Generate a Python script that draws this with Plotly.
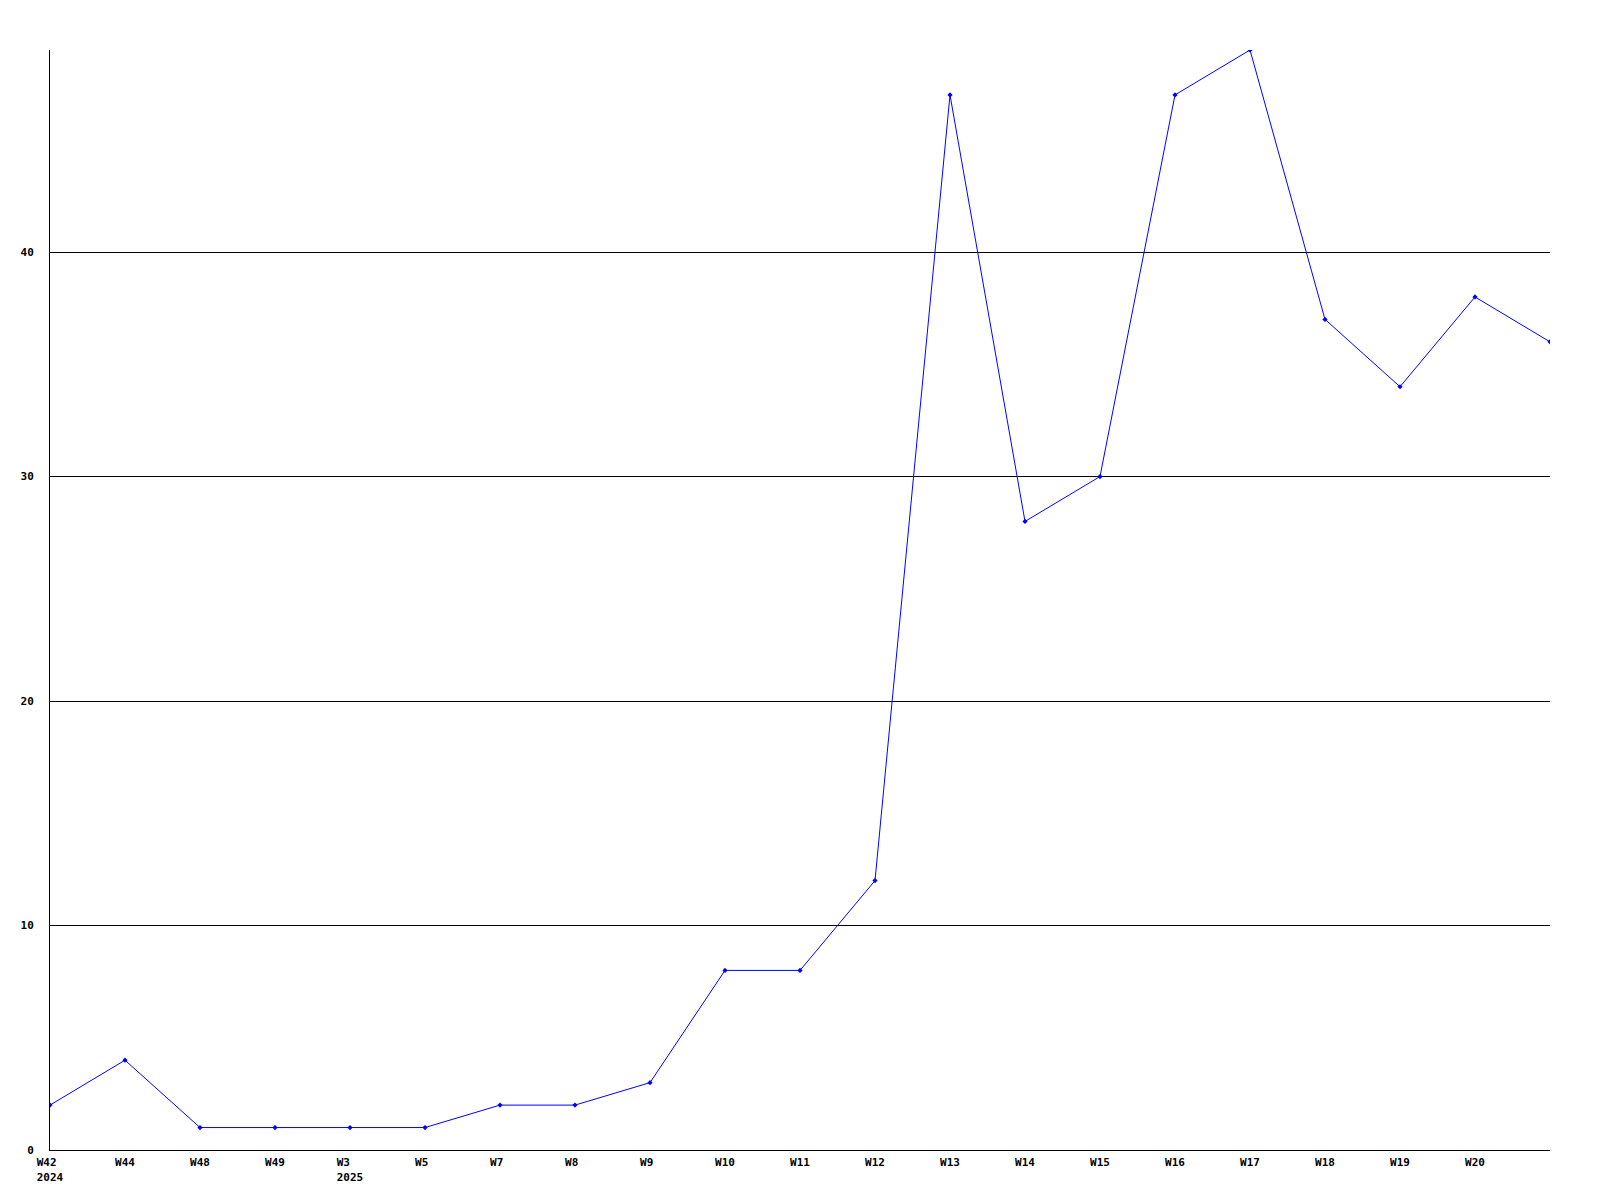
import plotly.graph_objects as go

weeks = ["W42", "W44", "W48", "W49", "W3", "W5", "W7", "W8", "W9", "W10",
         "W11", "W12", "W13", "W14", "W15", "W16", "W17", "W18", "W19", "W20", "W21"]
values = [2, 4, 1, 1, 1, 1, 2, 2, 3, 8, 8, 12, 47, 28, 30, 47, 49, 37, 34, 38, 36]
tick_labels = ["W42<br>2024", "W44", "W48", "W49", "W3<br>2025", "W5", "W7", "W8", "W9",
               "W10", "W11", "W12", "W13", "W14", "W15", "W16", "W17", "W18", "W19", "W20"]
y_ticks = [0, 10, 20, 30, 40]

x_idx = list(range(len(weeks)))

# pad short labels so they sit left-aligned like the reference
def pad(lbl):
    lines = lbl.split("<br>")
    w = max(len(s) for s in lines)
    w = max(w, 3)
    return "<br>".join(s + "\u00a0" * (w - len(s)) for s in lines)

ticktext = [pad(t) for t in tick_labels]

fig = go.Figure()
fig.add_trace(go.Scatter(
    x=x_idx, y=values, mode="lines+markers",
    line=dict(color="#0000FF", width=1),
    marker=dict(symbol="diamond", size=4, color="#0000FF"),
    text=weeks, hoverinfo="text+y",
))

font = dict(family="DejaVu Sans Mono", size=11, color="black", weight="bold")

fig.update_layout(
    width=1600, height=1200,
    margin=dict(l=42, r=58, t=42, b=58, autoexpand=False),
    paper_bgcolor="white", plot_bgcolor="white",
    showlegend=False,
    xaxis=dict(
        range=[0, len(weeks) - 1],
        tickvals=x_idx[:len(tick_labels)], ticktext=ticktext,
        showgrid=False, zeroline=False,
        showline=True, linecolor="black", linewidth=1,
        ticks="", tickfont=font, automargin=False,
        ticklabelstandoff=2,
    ),
    yaxis=dict(
        range=[0, 49],
        tickvals=y_ticks,
        showgrid=True, gridcolor="black", gridwidth=1,
        zeroline=False,
        showline=True, linecolor="black", linewidth=1,
        ticks="", tickfont=font, automargin=False,
        ticklabelstandoff=13,
    ),
)

fig.write_html("out.html")
